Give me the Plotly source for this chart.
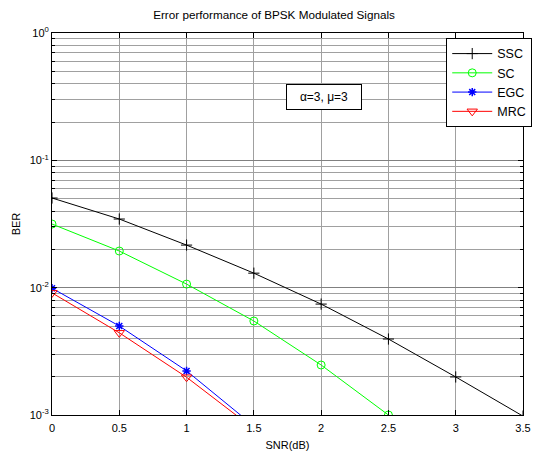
import plotly.graph_objects as go

snr = [0, 0.5, 1, 1.5, 2, 2.5, 3, 3.5]
ber_ssc = [0.0506, 0.0346, 0.0216, 0.0130, 0.00743, 0.00395, 0.00199, 0.00098]
ber_sc = [0.0316, 0.0194, 0.01067, 0.00547, 0.00247, 0.00100]
ber_egc = [0.0099, 0.0050, 0.00222, 0.00082]
ber_mrc = [0.0091, 0.00442, 0.00198, 0.00078]

ytickvals = [1, 0.1, 0.01, 0.001]
yticktext = ["10<sup>0</sup>", "10<sup>-1</sup>", "10<sup>-2</sup>", "10<sup>-3</sup>"]
xtickvals = [0, 0.5, 1, 1.5, 2, 2.5, 3, 3.5]
xticktext = ["0", "0.5", "1", "1.5", "2", "2.5", "3", "3.5"]

fig = go.Figure()
fig.add_trace(go.Scatter(x=snr, y=ber_ssc, name="SSC", mode="lines+markers",
                         line=dict(color="black", width=1),
                         marker=dict(symbol="cross-thin-open", size=8, color="black", line=dict(width=1, color="black"))))
fig.add_trace(go.Scatter(x=snr[:len(ber_sc)], y=ber_sc, name="SC", mode="lines+markers",
                         line=dict(color="#00FF00", width=1),
                         marker=dict(symbol="circle-open", size=8, color="#00FF00", line=dict(width=1, color="#00FF00"))))
fig.add_trace(go.Scatter(x=snr[:len(ber_egc)], y=ber_egc, name="EGC", mode="lines+markers",
                         line=dict(color="#0000FF", width=1),
                         marker=dict(symbol="asterisk-open", size=7, color="#0000FF", line=dict(width=1.5, color="#0000FF"))))
fig.add_trace(go.Scatter(x=snr[:len(ber_mrc)], y=ber_mrc, name="MRC", mode="lines+markers",
                         line=dict(color="#FF0000", width=1),
                         marker=dict(symbol="triangle-down-open", size=9, color="#FF0000", line=dict(width=1, color="#FF0000"))))

fig.add_annotation(x=2.02, y=-0.503, xref="x", yref="y", text="α=3, μ=3", showarrow=False,
                   font=dict(size=12, color="black", family="Liberation Sans, Arial"),
                   bordercolor="black", borderwidth=1, borderpad=5, bgcolor="white",
                   width=64, height=14)

fig.update_layout(
    width=547, height=454,
    margin=dict(l=52, r=24, t=33, b=39, autoexpand=False),
    paper_bgcolor="white", plot_bgcolor="white",
    font=dict(family="Liberation Sans, Arial", size=11, color="black"),
    title=dict(text="Error performance of BPSK Modulated Signals", x=274/547, xanchor="center",
               y=1 - 15/454, yanchor="middle", font=dict(size=11.7, color="black")),
    showlegend=True,
    legend=dict(x=0.837, y=0.987, xanchor="left", yanchor="top", bgcolor="white",
                bordercolor="black", borderwidth=1, font=dict(size=12.5, color="black"),
                itemwidth=40, tracegroupgap=2),
    xaxis=dict(range=[0, 3.5], tickvals=xtickvals, ticktext=xticktext, automargin=False,
               showgrid=True, gridcolor="#a0a0a0", gridwidth=1,
               showline=True, linecolor="black", linewidth=1, mirror="ticks",
               ticks="inside", ticklen=5, tickcolor="black", zeroline=False,
               ticklabelstandoff=3,
               title=dict(text="SNR(dB)", standoff=8, font=dict(size=11))),
    yaxis=dict(type="log", range=[-3, 0], tickvals=ytickvals, ticktext=yticktext, automargin=False,
               showgrid=True, gridcolor="#808080", gridwidth=1,
               showline=True, linecolor="black", linewidth=1, mirror="ticks",
               ticks="inside", ticklen=5, tickcolor="black", zeroline=False,
               minor=dict(dtick="D1", showgrid=True, gridcolor="#a0a0a0", gridwidth=1,
                          ticks="inside", ticklen=3, tickcolor="black"),
               title=dict(text="BER", standoff=6, font=dict(size=11))),
)

fig.write_html("out.html", config={"displayModeBar": False},
               post_script="document.body.style.margin='0';document.body.style.overflow='hidden';")
